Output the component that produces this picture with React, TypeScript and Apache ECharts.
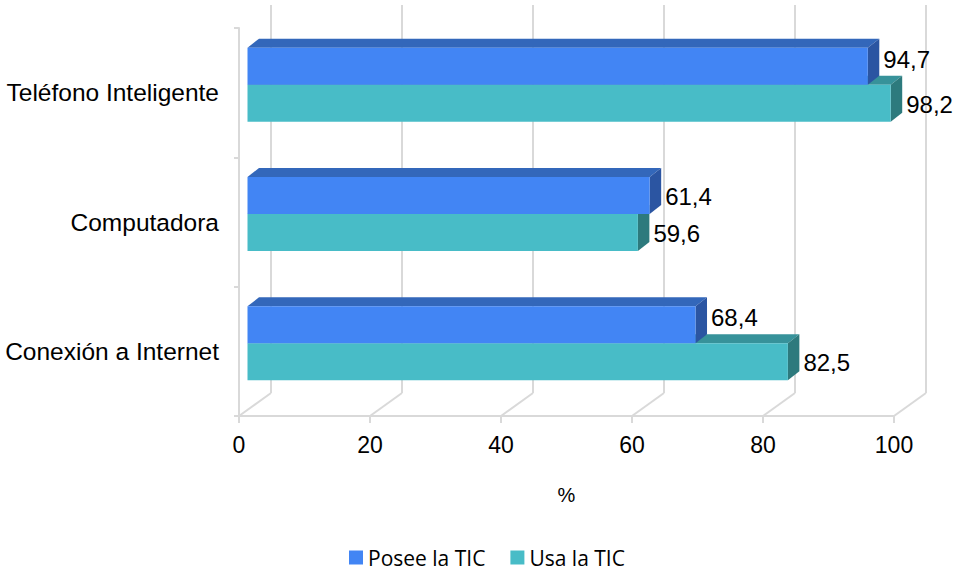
import React, { useEffect, useRef } from "react";
import * as echarts from "echarts";

const categories = ["Teléfono Inteligente", "Computadora", "Conexión a Internet"];
const poseeValues = [94.7, 61.4, 68.4];
const usaValues = [98.2, 59.6, 82.5];
const xTicks = [0, 20, 40, 60, 80, 100];
const seriesNames = ["Posee la TIC", "Usa la TIC"];

const FONT = "'Liberation Sans', Arial, sans-serif";
const GRID_COLOR = "#D9D9D9";
const WALL_DX = 32;
const WALL_DY = -23;
const BAR_SHIFT_X = 8.5;
const BAR_SHIFT_Y = -8;
const BAR_DX = 11.5;
const BAR_DY = -9;
const BAR_RATIO = 0.286;

const COLORS = [
  { front: "#4285F4", top: "#3367BA", side: "#2B55A2" },
  { front: "#48BCC7", top: "#37929A", side: "#2D7A7D" },
];

const fmt = (v: number) => v.toFixed(1).replace(".", ",");

function makeBarRender(idx: number) {
  return (params: any, api: any) => {
    const v = api.value(0);
    const cat = api.value(1);
    const other = api.value(2);
    const origin = api.coord([0, cat]);
    const end = api.coord([v, cat]);
    const band = api.size([0, 1])[1];
    const thick = band * BAR_RATIO;
    const cy = origin[1] + BAR_SHIFT_Y;
    const y0 = idx === 0 ? cy - thick : cy;
    const y1 = y0 + thick;
    const x0 = origin[0] + BAR_SHIFT_X;
    const x1 = end[0] + BAR_SHIFT_X;
    const c = COLORS[idx];
    const labelShift = idx === 0 && other > v ? -7 : 1;
    return {
      type: "group",
      children: [
        {
          type: "polygon",
          shape: {
            points: [
              [x0, y0],
              [x1, y0],
              [x1 + BAR_DX, y0 + BAR_DY],
              [x0 + BAR_DX, y0 + BAR_DY],
            ],
          },
          style: { fill: c.top },
        },
        {
          type: "polygon",
          shape: {
            points: [
              [x1, y0],
              [x1 + BAR_DX, y0 + BAR_DY],
              [x1 + BAR_DX, y1 + BAR_DY],
              [x1, y1],
            ],
          },
          style: { fill: c.side },
        },
        {
          type: "rect",
          shape: { x: x0, y: y0, width: x1 - x0, height: thick },
          style: { fill: c.front },
        },
        {
          type: "text",
          x: x1 + BAR_DX + 4,
          y: (y0 + y1) / 2 + labelShift,
          style: {
            text: fmt(v),
            fill: "#000",
            font: `24px ${FONT}`,
            textAlign: "left",
            textVerticalAlign: "middle",
          },
        },
      ],
    };
  };
}

function wallRender(params: any, api: any) {
  const t = api.value(0);
  const p = api.coord([t, 0]);
  const cs = params.coordSys;
  const bottom = cs.y + cs.height;
  const top = cs.y;
  const style = { stroke: GRID_COLOR, lineWidth: 2 };
  return {
    type: "group",
    children: [
      {
        type: "line",
        shape: { x1: p[0], y1: bottom, x2: p[0] + WALL_DX, y2: bottom + WALL_DY },
        style,
      },
      {
        type: "line",
        shape: { x1: p[0] + WALL_DX, y1: bottom + WALL_DY, x2: p[0] + WALL_DX, y2: top + WALL_DY },
        style,
      },
    ],
  };
}

export default function App() {
  const ref = useRef<HTMLDivElement>(null);
  useEffect(() => {
    document.body.style.margin = "0";
    if (!ref.current) return;
    const chart = echarts.init(ref.current, undefined, { renderer: "svg" });
    const poseeData = poseeValues.map((v, i) => [v, i, usaValues[i]]);
    const usaData = usaValues.map((v, i) => [v, i, poseeValues[i]]);
    chart.setOption({
      animation: false,
      backgroundColor: "#fff",
      grid: { left: 239, right: 61, top: 28, bottom: 155, containLabel: false },
      legend: {
        data: seriesNames,
        top: 547,
        left: 349,
        padding: 0,
        icon: "rect",
        itemWidth: 14,
        itemHeight: 14,
        itemGap: 25,
        textStyle: { fontFamily: "'Open Sans', sans-serif", fontSize: 21, color: "#000" },
      },
      xAxis: {
        type: "value",
        min: 0,
        max: 100,
        interval: 20,
        name: "%",
        nameLocation: "middle",
        nameGap: 69,
        nameTextStyle: { fontFamily: FONT, fontSize: 20, color: "#000" },
        axisLine: { show: true, lineStyle: { color: GRID_COLOR, width: 2 } },
        axisTick: { show: true, length: 7, lineStyle: { color: GRID_COLOR, width: 2 } },
        axisLabel: { fontFamily: FONT, fontSize: 23, color: "#000", margin: 17 },
        splitLine: { show: false },
      },
      yAxis: {
        type: "category",
        inverse: true,
        data: categories,
        axisLine: { show: true, lineStyle: { color: GRID_COLOR, width: 2 } },
        axisTick: { show: true, length: 5, lineStyle: { color: GRID_COLOR, width: 2 } },
        axisLabel: {
          fontFamily: FONT,
          fontSize: 24.5,
          color: "#000",
          margin: 20,
          padding: [4, 0, 0, 0],
        },
        splitLine: { show: false },
      },
      series: [
        {
          type: "custom",
          name: "walls",
          renderItem: wallRender,
          data: xTicks.map((t) => [t, 0]),
          encode: { x: 0, y: 1 },
          clip: false,
          silent: true,
          z: 1,
        },
        {
          type: "custom",
          name: seriesNames[1],
          renderItem: makeBarRender(1),
          data: usaData,
          encode: { x: 0, y: 1 },
          itemStyle: { color: COLORS[1].front },
          clip: false,
          z: 3,
        },
        {
          type: "custom",
          name: seriesNames[0],
          renderItem: makeBarRender(0),
          data: poseeData,
          encode: { x: 0, y: 1 },
          itemStyle: { color: COLORS[0].front },
          clip: false,
          z: 4,
        },
      ],
    });
    return () => chart.dispose();
  }, []);
  return <div ref={ref} style={{ width: 955, height: 571 }} />;
}
